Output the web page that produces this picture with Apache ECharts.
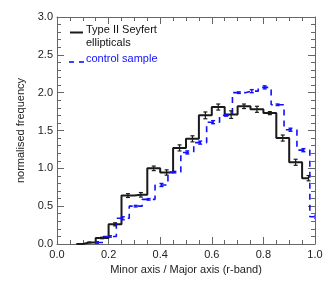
<!DOCTYPE html>
<html>
<head>
<meta charset="utf-8">
<script src="https://cdn.jsdelivr.net/npm/echarts@6/dist/echarts.min.js"></script>
<style>
html,body{margin:0;padding:0;background:#fff;}
#c{width:332px;height:281px;}
</style>
</head>
<body>
<div id="c"></div>
<script>
// Type II Seyfert ellipticals (black histogram, bin centres)
var seyfertX = [0.075,0.125,0.175,0.225,0.275,0.325,0.375,0.425,0.475,0.525,0.575,0.625,0.675,0.725,0.775,0.825,0.875,0.925,0.975];
var seyfertY = [0.00,0.02,0.08,0.26,0.64,0.65,1.00,0.945,1.27,1.39,1.70,1.81,1.71,1.82,1.78,1.73,1.40,1.08,0.87];
var seyfertErr = [0,0.005,0.01,0.02,0.025,0.03,0.03,0.035,0.04,0.04,0.045,0.04,0.05,0.03,0.04,0.02,0.04,0.04,0.035];
// control sample (blue dashed histogram, bin centres)
var controlX = [0.155,0.205,0.255,0.305,0.355,0.405,0.455,0.505,0.555,0.605,0.655,0.705,0.755,0.805,0.855,0.905,0.955,1.005];
var controlY = [0.02,0.10,0.34,0.50,0.59,0.78,0.95,1.21,1.34,1.61,1.70,2.00,2.02,2.07,1.84,1.51,1.24,0.36];
var controlErr = [0.01,0.01,0.02,0.01,0.01,0.02,0.01,0.02,0.02,0.02,0.01,0.01,0.02,0.02,0.01,0.02,0.02,0.02];
// axis ticks
var xTicks = [0.0,0.2,0.4,0.6,0.8,1.0];
var yTicks = [0.0,0.5,1.0,1.5,2.0,2.5,3.0];

var BLACK = '#1a1a1a', BLUE = '#1010ff', AXIS = '#666', TXT = '#222';
var FONT = 'Liberation Sans';

function pairs(xs, ys){ return xs.map(function(x,i){ return [x, ys[i]]; }); }
function triples(xs, ys, es){ return xs.map(function(x,i){ return [x, ys[i], es[i]]; }); }

function errRender(color, lw){
  return function(params, api){
    var x = api.value(0), y = api.value(1), e = api.value(2);
    if (!e) return null;
    var t = api.coord([x, y+e]), b = api.coord([x, y-e]);
    var hw = 2;
    var st = {stroke: color, lineWidth: lw};
    return {type:'group', children:[
      {type:'line', shape:{x1:t[0], y1:t[1], x2:b[0], y2:b[1]}, style:st},
      {type:'line', shape:{x1:t[0]-hw, y1:t[1], x2:t[0]+hw, y2:t[1]}, style:st},
      {type:'line', shape:{x1:b[0]-hw, y1:b[1], x2:b[0]+hw, y2:b[1]}, style:st}
    ]};
  };
}

var xBase = {
  type:'value', min:0, max:1, interval:0.2,
  axisLine:{show:true, onZero:false, lineStyle:{color:AXIS, width:1}},
  axisTick:{show:true, inside:true, length:7, lineStyle:{color:AXIS}},
  minorTick:{show:true, splitNumber:4, length:4, lineStyle:{color:AXIS}},
  splitLine:{show:false}
};
var yBase = {
  type:'value', min:0, max:3, interval:0.5,
  axisLine:{show:true, onZero:false, lineStyle:{color:AXIS, width:1}},
  axisTick:{show:true, inside:true, length:7, lineStyle:{color:AXIS}},
  minorTick:{show:true, splitNumber:5, length:4, lineStyle:{color:AXIS}},
  splitLine:{show:false}
};

var chart = echarts.init(document.getElementById('c'), null, {renderer:'canvas'});
chart.setOption({
  animation:false,
  backgroundColor:'#fff',
  grid:{left:57, right:17, top:17, bottom:37},
  xAxis:[
    Object.assign({}, xBase, {
      position:'bottom',
      name:'Minor axis / Major axis (r-band)', nameLocation:'middle', nameGap:15,
      nameTextStyle:{color:TXT, fontSize:11, fontFamily:FONT},
      axisLabel:{show:true, color:TXT, fontSize:11, fontFamily:FONT, margin:5,
        formatter:function(v){ return xTicks.indexOf(+v.toFixed(1))>=0 ? v.toFixed(1) : ''; }}
    }),
    Object.assign({}, xBase, {position:'top', axisLabel:{show:false}})
  ],
  yAxis:[
    Object.assign({}, yBase, {
      position:'left',
      name:'normalised frequency', nameLocation:'middle', nameGap:26,
      nameTextStyle:{color:TXT, fontSize:11, fontFamily:FONT},
      axisLabel:{show:true, color:TXT, fontSize:11, fontFamily:FONT, margin:4,
        formatter:function(v){ return yTicks.indexOf(+v.toFixed(1))>=0 ? v.toFixed(1) : ''; }}
    }),
    Object.assign({}, yBase, {position:'right', axisLabel:{show:false}})
  ],
  series:[
    {type:'line', name:'Type II Seyfert ellipticals', step:'middle', showSymbol:false, symbol:'none',
     data:pairs(seyfertX, seyfertY), lineStyle:{color:BLACK, width:2}, clip:true, z:3},
    {type:'line', name:'control sample', step:'middle', showSymbol:false, symbol:'none',
     data:pairs(controlX, controlY), lineStyle:{color:BLUE, width:1.6, type:[6,5]}, clip:true, z:4},
    {type:'custom', renderItem:errRender(BLACK, 1.2), data:triples(seyfertX, seyfertY, seyfertErr), clip:true, z:5},
    {type:'custom', renderItem:errRender(BLUE, 1.4), data:triples(controlX, controlY, controlErr), clip:true, z:6}
  ],
  graphic:[
    {type:'line', shape:{x1:70, y1:32.5, x2:83, y2:32.5}, style:{stroke:BLACK, lineWidth:2}},
    {type:'text', left:86, top:24, style:{text:'Type II Seyfert', fill:'#111', font:'11px "Liberation Sans"'}},
    {type:'text', left:86, top:37, style:{text:'ellipticals', fill:'#111', font:'11px "Liberation Sans"'}},
    {type:'line', shape:{x1:69, y1:62, x2:84, y2:62}, style:{stroke:BLUE, lineWidth:1.6, lineDash:[5,5]}},
    {type:'text', left:86, top:53.5, style:{text:'control sample', fill:BLUE, font:'11px "Liberation Sans"'}}
  ]
});
</script>
</body>
</html>
